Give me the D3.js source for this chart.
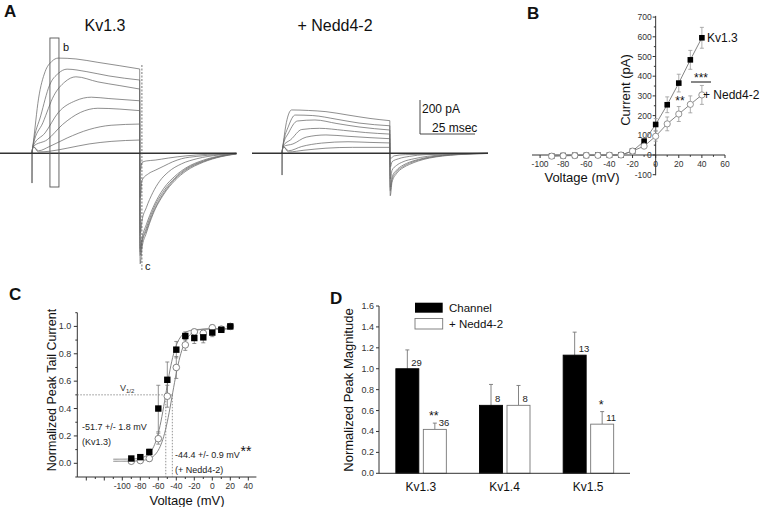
<!DOCTYPE html>
<html><head><meta charset="utf-8">
<script src="https://cdn.jsdelivr.net/npm/d3@7/dist/d3.min.js"></script>
<style>body{margin:0;background:#fff}svg{display:block;font-family:Arial,"Liberation Sans",sans-serif}</style>
</head><body>
<svg id="c" width="763" height="507"></svg>
<script>
// ---------- Panel A: current traces (t in ms from step onset, I in pA) ----------
const kvSteps = [
  [[0,0],[0.6,60],[3,320],[6,480],[9,540],[12,560],[20,555],[30,535],[40,515],[49,496]],
  [[0,0],[0.6,55],[4,220],[8,400],[12,470],[16,495],[25,480],[35,455],[49,431]],
  [[0,0],[0.6,50],[5,180],[10,340],[15,420],[20,450],[30,420],[40,398],[49,378]],
  [[0,0],[0.6,45],[6,120],[12,240],[20,310],[27,330],[35,322],[49,309]],
  [[0,0],[0.6,40],[7,80],[14,170],[22,240],[30,265],[40,260],[49,251]],
  [[0,0],[0.6,40],[3,15],[8,40],[16,90],[26,140],[36,165],[49,172]],
  [[0,0],[0.6,40],[3,8],[8,12],[16,30],[26,55],[36,70],[49,78]]
];
const kvTails = [
  [[49,0],[49.2,-650],[50,-560],[52,-470],[55,-360],[60,-240],[65,-160],[70,-105],[78,-52],[86,-20],[93,-4]],
  [[49,0],[49.2,-600],[50,-530],[52,-455],[55,-350],[60,-232],[65,-152],[70,-98],[78,-48],[86,-18],[93,-3]],
  [[49,0],[49.2,-580],[50,-520],[52,-440],[55,-335],[60,-220],[65,-145],[70,-92],[78,-45],[86,-16],[93,-3]],
  [[49,0],[49.2,-560],[50,-500],[52,-420],[55,-320],[60,-205],[65,-135],[70,-86],[78,-40],[86,-14],[93,-2]],
  [[49,0],[49.3,-470],[50,-400],[52,-320],[55,-230],[58,-165],[62,-110],[68,-62],[75,-32],[85,-10],[93,-2]],
  [[49,0],[49.3,-260],[50,-160],[53,-120],[56,-100],[60,-75],[64,-50],[68,-32],[75,-18],[85,-7],[93,0]],
  [[49,0],[49.3,-100],[50,-55],[52,-45],[56,-40],[62,-28],[70,-15],[80,-6],[93,0]]
];
const kvSpike = [[0,0],[0.05,-175],[0.15,0]];
const ndSteps = [
  [[0,0],[0.6,60],[2,180],[4.4,255],[12,252],[20,245],[30,225],[40,205],[49,192]],
  [[0,0],[0.6,55],[3,160],[6,225],[14,222],[25,200],[35,178],[49,162]],
  [[0,0],[0.6,50],[3,120],[7,190],[15,196],[25,175],[35,155],[49,137]],
  [[0,0],[0.6,45],[4,80],[9,140],[17,147],[28,135],[38,122],[49,113]],
  [[0,0],[0.6,40],[5,55],[11,95],[20,108],[30,100],[40,92],[49,86]],
  [[0,0],[0.6,40],[3,15],[9,40],[18,60],[30,68],[40,64],[49,61]],
  [[0,0],[0.6,40],[3,8],[10,18],[20,30],[32,35],[49,35]]
];
const ndTails = [
  [[49,0],[49.2,-250],[50,-170],[52,-120],[55,-85],[58,-65],[62,-45],[67,-28],[73,-16],[80,-8],[93.6,-1]],
  [[49,0],[49.2,-220],[50,-155],[52,-110],[55,-78],[58,-58],[62,-40],[67,-25],[73,-14],[80,-7],[93.6,-1]],
  [[49,0],[49.2,-200],[50,-140],[52,-100],[55,-70],[58,-52],[62,-36],[67,-22],[73,-12],[80,-6],[93.6,0]],
  [[49,0],[49.3,-150],[50,-100],[52,-72],[55,-50],[60,-32],[66,-18],[73,-9],[93.6,0]],
  [[49,0],[49.3,-80],[50,-50],[53,-32],[58,-18],[65,-8],[93.6,0]],
  [[49,0],[49.3,-30],[51,-15],[56,-8],[93.6,0]]
];
const ndSpike = [[0,0],[0.05,-128],[0.15,0]];
const traceTitles = ["Kv1.3", "+ Nedd4-2"];
const scaleBar = {pA: 200, ms: 25, labels: ["200 pA", "25 msec"]};

// ---------- Panel B: I-V ----------
const ivVolt = [-90,-80,-70,-60,-50,-40,-30,-20,-10,0,10,20,30,40];
const ivKv = [-5,-3,-2,-2,-1,-1,0,20,70,155,255,365,483,595];
const ivKvErr = [3,3,2,2,2,2,3,6,15,30,40,45,48,53];
const ivNd = [-6,-4,-3,-2,-2,-1,0,20,45,95,158,208,257,305];
const ivNdErr = [3,3,2,2,2,2,3,6,10,25,35,38,43,48];
const ivXTicks = [-100,-80,-60,-40,-20,0,20,40,60];
const ivYTicks = [-100,0,100,200,300,400,500,600,700];

// ---------- Panel C: activation ----------
const gvVolt = [-90,-80,-70,-60,-50,-40,-30,-20,-10,0,10,20];
const gvKv = [0.035,0.045,0.083,0.40,0.61,0.83,0.93,0.915,0.92,0.955,0.975,1.0];
const gvKvErr = [0.01,0.01,0.02,0.17,0.13,0.06,0.03,0.04,0.04,0.03,0.01,0.01];
const gvNd = [0.015,0.02,0.035,0.18,0.49,0.70,0.865,0.96,0.95,0.99,0.98,1.0];
const gvNdErr = [0.01,0.01,0.02,0.04,0.08,0.08,0.04,0.02,0.02,0.02,0.01,0.01];
const fitVhalf = [-51.7, -44.4];
const fitSlope = [6.0, 6.5];
const fitBottom = [0.03, 0.015];
const fitTop = [0.98, 0.985];
const gvXTicks = [-100,-80,-60,-40,-20,0,20,40];
const gvYTicks = [0,0.2,0.4,0.6,0.8,1.0];

// ---------- Panel D: bars ----------
const dCats = ["Kv1.3","Kv1.4","Kv1.5"];
const dChannel = [1.0, 0.65, 1.13];
const dChannelErr = [0.18, 0.20, 0.22];
const dNedd = [0.42, 0.65, 0.47];
const dNeddErr = [0.06, 0.19, 0.12];
const dChannelN = ["29","8","13"];
const dNeddN = ["36","8","11"];
const dNeddSig = ["**","","*"];
const dYTicks = [0,0.2,0.4,0.6,0.8,1.0,1.2,1.4,1.6];
const dLegend = ["Channel","+ Nedd4-2"];

const svg = d3.select("#c");
const TR = "#6a6a6a";

function label(t, x, y, size, opts = {}) {
  return svg.append("text").attr("x", x).attr("y", y).attr("font-size", size)
    .attr("font-weight", opts.bold ? "bold" : null)
    .attr("text-anchor", opts.anchor || "start")
    .attr("dominant-baseline", "central")
    .attr("fill", opts.fill || "#111").text(t);
}

// ===== Panel A =====
label("A", 4, 11, 17, {bold: true});
const yA = d3.scaleLinear().domain([0, 200]).range([153.3, 119.3]);
const xA1 = d3.scaleLinear().domain([-14.5, 93]).range([0, 236.5]);
const xA2 = d3.scaleLinear().domain([-13.6, 93.6]).range([252, 488]);
function drawTraces(xs, steps, tails, spike, t0, t1) {
  const g = svg.append("g");
  const ln = d3.line().x(d => xs(d[0])).y(d => yA(d[1])).curve(d3.curveMonotoneX);
  const lnL = d3.line().x(d => xs(d[0])).y(d => yA(d[1]));
  steps.forEach(s => {
    g.append("path").attr("d", ln(s)).attr("stroke", TR).attr("stroke-width", 0.75).attr("fill","none");
    const last = s[s.length-1];
    g.append("path").attr("d", lnL([last,[49,0]])).attr("stroke", TR).attr("stroke-width", 0.75).attr("fill","none");
  });
  tails.forEach(s => g.append("path").attr("d", ln(s)).attr("stroke", TR).attr("stroke-width", 0.75).attr("fill","none"));
  g.append("path").attr("d", lnL(spike)).attr("stroke", TR).attr("stroke-width", 0.9).attr("fill","none");
  g.append("path").attr("d", lnL([[t0,0],[t1,0]])).attr("stroke", "#333").attr("stroke-width", 1.5).attr("fill","none");
  return g;
}
drawTraces(xA1, kvSteps, kvTails, kvSpike, -14.5, 93);
drawTraces(xA2, ndSteps, ndTails, ndSpike, -13.6, 93.6);
label(traceTitles[0], 105, 25, 16, {anchor: "middle"});
label(traceTitles[1], 335, 25, 16, {anchor: "middle"});
// box b and dashed c
svg.append("rect").attr("x", xA1(8.2)).attr("y", 38).attr("width", xA1(12.3)-xA1(8.2)).attr("height", 149)
  .attr("fill","none").attr("stroke","#555").attr("stroke-width",0.9);
label("b", 63, 47, 11);
svg.append("line").attr("x1", xA1(50)).attr("x2", xA1(50)).attr("y1", 65).attr("y2", 271)
  .attr("stroke","#555").attr("stroke-width",0.8).attr("stroke-dasharray","2,1.5");
label("c", 145, 266, 11);
// scale bar
const sbx = 420, sby = 134;
svg.append("path").attr("d", `M${sbx},${yA(scaleBar.pA) - (yA(0)-sby)}V${sby}H${sbx + (xA2(scaleBar.ms)-xA2(0))}`)
  .attr("fill","none").attr("stroke","#333").attr("stroke-width",0.9);
label(scaleBar.labels[0], 422, 109, 12);
label(scaleBar.labels[1], 432, 128, 12);

// ===== Panel B =====
label("B", 527, 13, 17, {bold: true});
const xB = d3.scaleLinear().domain([-107, 60]).range([532, 725]);
const yB = d3.scaleLinear().domain([-100, 700]).range([174.7, 17.1]);
const gB = svg.append("g");
gB.append("line").attr("x1", xB(-107)).attr("x2", xB(60)).attr("y1", yB(0)).attr("y2", yB(0)).attr("stroke","#333");
gB.append("line").attr("x1", xB(0)).attr("x2", xB(0)).attr("y1", yB(-103)).attr("y2", yB(706)).attr("stroke","#333");
d3.range(-100, 61, 10).forEach(v => gB.append("line").attr("x1", xB(v)).attr("x2", xB(v))
  .attr("y1", yB(0)).attr("y2", yB(0) + (v % 20 === 0 ? 3 : 1.8)).attr("stroke","#333"));
d3.range(-100, 701, 50).forEach(v => gB.append("line").attr("x1", xB(0)).attr("x2", xB(0) - (v % 100 === 0 ? 3 : 1.8))
  .attr("y1", yB(v)).attr("y2", yB(v)).attr("stroke","#333"));
ivXTicks.forEach(v => gB.append("text").attr("x", xB(v)).attr("y", yB(0) + 9).attr("font-size", 8.5)
  .attr("text-anchor","middle").attr("dominant-baseline","central").attr("fill","#333").text(v));
ivYTicks.forEach(v => gB.append("text").attr("x", xB(0) - 4).attr("y", yB(v)).attr("font-size", 8.5)
  .attr("text-anchor","end").attr("dominant-baseline","central").attr("fill","#333").text(v));
svg.append("text").attr("transform", "translate(625,90) rotate(-90)").attr("font-size", 13)
  .attr("text-anchor","middle").attr("dominant-baseline","central").attr("fill","#111").text("Current (pA)");
label("Voltage (mV)", 582, 177, 13, {anchor: "middle"});
function ivLineErr(vals, errs) {
  const pts = ivVolt.map((v, i) => [v, vals[i], errs[i]]);
  gB.append("path").attr("d", d3.line().x(d => xB(d[0])).y(d => yB(d[1]))(pts))
    .attr("fill","none").attr("stroke","#777").attr("stroke-width",0.9);
  pts.forEach(d => {
    gB.append("line").attr("x1", xB(d[0])).attr("x2", xB(d[0])).attr("y1", yB(d[1]-d[2])).attr("y2", yB(d[1]+d[2])).attr("stroke","#999").attr("stroke-width",0.8);
    [d[1]-d[2], d[1]+d[2]].forEach(e => gB.append("line").attr("x1", xB(d[0])-2).attr("x2", xB(d[0])+2).attr("y1", yB(e)).attr("y2", yB(e)).attr("stroke","#999").attr("stroke-width",0.8));
  });
}
ivLineErr(ivKv, ivKvErr);
ivLineErr(ivNd, ivNdErr);
ivVolt.forEach((v, i) => gB.append("rect").attr("x", xB(v)-2.8).attr("y", yB(ivKv[i])-2.8).attr("width",5.6).attr("height",5.6).attr("fill","#000"));
ivVolt.forEach((v, i) => gB.append("circle").attr("cx", xB(v)).attr("cy", yB(ivNd[i])).attr("r",3.1).attr("fill","#fff").attr("stroke","#888").attr("stroke-width",0.9));
label("Kv1.3", 707, 38, 12);
label("+ Nedd4-2", 703, 95, 12);
label("***", 701, 78, 12, {anchor: "middle"});
svg.append("line").attr("x1", 691).attr("x2", 711).attr("y1", 82).attr("y2", 82).attr("stroke","#111");
label("**", 680, 101, 12, {anchor: "middle"});

// ===== Panel C =====
label("C", 9, 294, 17, {bold: true});
const xC = d3.scaleLinear().domain([-150, 49]).range([77.3, 256.4]);
const yC = d3.scaleLinear().domain([-0.1, 1.1]).range([477, 312.7]);
const gC = svg.append("g");
gC.append("line").attr("x1", xC(-150)).attr("x2", xC(49)).attr("y1", yC(-0.1)).attr("y2", yC(-0.1)).attr("stroke","#333");
gC.append("line").attr("x1", xC(-150)).attr("x2", xC(-150)).attr("y1", yC(-0.1)).attr("y2", yC(1.1)).attr("stroke","#333");
d3.range(-140, 41, 10).forEach(v => gC.append("line").attr("x1", xC(v)).attr("x2", xC(v))
  .attr("y1", yC(-0.1)).attr("y2", yC(-0.1) + (v % 20 === 0 ? 3.5 : 2)).attr("stroke","#333"));
d3.range(-1, 12, 1).forEach(k => gC.append("line").attr("x1", xC(-150)).attr("x2", xC(-150) - (k % 2 === 0 ? 3.5 : 2))
  .attr("y1", yC(k/10)).attr("y2", yC(k/10)).attr("stroke","#333"));
gvXTicks.forEach(v => gC.append("text").attr("x", xC(v)).attr("y", yC(-0.1) + 8.5).attr("font-size", 8.5)
  .attr("text-anchor","middle").attr("dominant-baseline","central").attr("fill","#333").text(v));
gvYTicks.forEach(v => gC.append("text").attr("x", xC(-150) - 6).attr("y", yC(v)).attr("font-size", 9)
  .attr("text-anchor","end").attr("dominant-baseline","central").attr("fill","#333").text(v.toFixed(1)));
svg.append("text").attr("transform", "translate(52,390) rotate(-90)").attr("font-size", 12.5)
  .attr("text-anchor","middle").attr("dominant-baseline","central").attr("fill","#111").text("Normalized Peak Tail Current");
label("Voltage (mV)", 187, 500, 13, {anchor: "middle"});
// V1/2 guide lines
const dash = "1.5,1.5";
gC.append("line").attr("x1", xC(-150)).attr("x2", xC(fitVhalf[1])).attr("y1", yC(0.5)).attr("y2", yC(0.5)).attr("stroke","#777").attr("stroke-width",0.8).attr("stroke-dasharray",dash);
fitVhalf.forEach(v => gC.append("line").attr("x1", xC(v)).attr("x2", xC(v)).attr("y1", yC(0.5)).attr("y2", yC(-0.1)).attr("stroke","#777").attr("stroke-width",0.8).attr("stroke-dasharray",dash));
// Boltzmann fits from the stated V1/2 values
[0,1].forEach(i => {
  const vs = d3.range(-110, 20.5, 1);
  const line = d3.line().x(v => xC(v)).y(v => yC(fitBottom[i] + (fitTop[i]-fitBottom[i]) / (1 + Math.exp((fitVhalf[i]-v)/fitSlope[i]))));
  gC.append("path").attr("d", line(vs)).attr("fill","none").attr("stroke","#777").attr("stroke-width",0.9);
});
function gvErr(vals, errs) {
  gvVolt.forEach((v, i) => {
    const x = xC(v);
    gC.append("line").attr("x1", x).attr("x2", x).attr("y1", yC(vals[i]-errs[i])).attr("y2", yC(vals[i]+errs[i])).attr("stroke","#777").attr("stroke-width",0.8);
    [vals[i]-errs[i], vals[i]+errs[i]].forEach(e => gC.append("line").attr("x1", x-2).attr("x2", x+2).attr("y1", yC(e)).attr("y2", yC(e)).attr("stroke","#777").attr("stroke-width",0.8));
  });
}
gvErr(gvNd, gvNdErr);
gvErr(gvKv, gvKvErr);
gvVolt.forEach((v, i) => gC.append("circle").attr("cx", xC(v)).attr("cy", yC(gvNd[i])).attr("r",3.3).attr("fill","#fff").attr("stroke","#777").attr("stroke-width",0.9));
gvVolt.forEach((v, i) => gC.append("rect").attr("x", xC(v)-3.2).attr("y", yC(gvKv[i])-3.2).attr("width",6.4).attr("height",6.4).attr("fill","#000"));
svg.append("text").attr("x", 120).attr("y", 388).attr("font-size", 9).attr("fill","#333").attr("dominant-baseline","central")
  .call(t => { t.append("tspan").text("V"); t.append("tspan").attr("font-size", 6).attr("dy", 3).text("1/2"); });
label("-51.7 +/- 1.8 mV", 82, 427, 9, {fill: "#222"});
label("(Kv1.3)", 82, 442, 9, {fill: "#222"});
label("-44.4 +/- 0.9 mV", 175, 455, 9, {fill: "#222"});
label("(+ Nedd4-2)", 175, 470, 9, {fill: "#222"});
label("**", 246, 451, 14, {anchor: "middle"});

// ===== Panel D =====
label("D", 330, 298, 17, {bold: true});
const xD = d3.scaleBand().domain(dCats).range([379, 630]).padding(0);
const yD = d3.scaleLinear().domain([0, 1.6]).range([473.3, 306]);
const gD = svg.append("g");
const bw = 23;
dCats.forEach((c, i) => {
  const cx = xD(c) + xD.bandwidth()/2;
  const bx = [cx - 25, cx + 2.5];
  const vals = [dChannel[i], dNedd[i]], errs = [dChannelErr[i], dNeddErr[i]], ns = [dChannelN[i], dNeddN[i]];
  [0,1].forEach(k => {
    const x0 = bx[k], mid = x0 + bw/2;
    gD.append("line").attr("x1", mid).attr("x2", mid).attr("y1", yD(vals[k])).attr("y2", yD(vals[k]+errs[k])).attr("stroke","#777").attr("stroke-width",0.9);
    gD.append("line").attr("x1", mid-2).attr("x2", mid+2).attr("y1", yD(vals[k]+errs[k])).attr("y2", yD(vals[k]+errs[k])).attr("stroke","#777").attr("stroke-width",0.9);
    gD.append("rect").attr("x", x0).attr("y", yD(vals[k])).attr("width", bw).attr("height", yD(0)-yD(vals[k]))
      .attr("fill", k === 0 ? "#000" : "#fff").attr("stroke", k === 0 ? "#000" : "#777").attr("stroke-width", 0.9);
    gD.append("text").attr("x", mid + 4).attr("y", yD(vals[k]) - 6.5).attr("font-size", 9.5).attr("fill","#222")
      .attr("dominant-baseline","central").text(ns[k]);
  });
  if (dNeddSig[i]) gD.append("text").attr("x", bx[1] + bw/2 - 1).attr("y", yD(dNedd[i]+dNeddErr[i]) - 7).attr("font-size", 12.5)
    .attr("text-anchor","middle").attr("dominant-baseline","central").attr("fill","#111").text(dNeddSig[i]);
  gD.append("text").attr("x", cx).attr("y", 487).attr("font-size", 12).attr("text-anchor","middle")
    .attr("dominant-baseline","central").attr("fill","#111").text(c);
});
gD.append("line").attr("x1", 379).attr("x2", 630).attr("y1", yD(0)).attr("y2", yD(0)).attr("stroke","#333");
gD.append("line").attr("x1", 379).attr("x2", 379).attr("y1", yD(0)).attr("y2", yD(1.6)).attr("stroke","#333");
dYTicks.forEach(v => {
  gD.append("line").attr("x1", 379).attr("x2", 376).attr("y1", yD(v)).attr("y2", yD(v)).attr("stroke","#333");
  gD.append("text").attr("x", 374).attr("y", yD(v)).attr("font-size", 9).attr("text-anchor","end")
    .attr("dominant-baseline","central").attr("fill","#333").text(v.toFixed(1));
});
svg.append("text").attr("transform", "translate(348,390) rotate(-90)").attr("font-size", 13)
  .attr("text-anchor","middle").attr("dominant-baseline","central").attr("fill","#111").text("Normalized Peak Magnitude");
gD.append("rect").attr("x", 415).attr("y", 302.7).attr("width", 27.7).attr("height", 10).attr("fill","#000");
gD.append("rect").attr("x", 415).attr("y", 318.5).attr("width", 27.7).attr("height", 10.5).attr("fill","#fff").attr("stroke","#777").attr("stroke-width",0.9);
label(dLegend[0], 449, 308, 11.5);
label(dLegend[1], 449, 324, 11.5);
</script>
</body></html>
